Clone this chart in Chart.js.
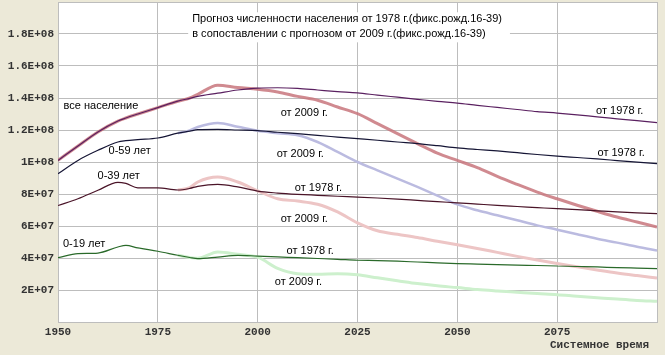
<!DOCTYPE html>
<html>
<head>
<meta charset="utf-8">
<script src="https://cdn.jsdelivr.net/npm/chart.js@4"></script>
<style>
html,body{margin:0;padding:0;background:#ECE9D8;}
canvas{display:block;}
</style>
</head>
<body>
<canvas id="c" width="665" height="355"></canvas>
<script>
// ---- data (values in millions of people) ----
const years = [1950,1955,1960,1965,1967,1970,1975,1980,1983,1985,1990,1995,2000,2005,2010,2015,2020,2025,2030,2035,2040,2045,2050,2055,2060,2065,2070,2075,2080,2085,2090,2095,2100];

const total1978 = [101,110,118.8,125.6,127.5,130,134,138,139.8,141,143,145,146.2,146.4,146,145,144,143.2,141.8,140.5,139.2,137.9,136.8,135.4,134.1,132.8,131.5,130.6,129.5,128.2,127,125.8,124.6];
const total2009 = [101,110,118.8,125.6,127.5,130,134,138,140,142.3,148,146.5,145.5,143.8,141,138.6,134.4,130.2,124,117.7,111.5,105.5,101,96.5,91,86,81.2,77,73,69.2,65.6,62.5,59.4];

const age59_1978 = [92.7,101,107.3,112.5,113.3,114,115,118,119.3,120.2,120.4,120,119.6,118.6,117.7,116.6,115.6,114.6,113.6,112.5,111.5,110.2,108.8,107.8,106.9,105.8,104.7,103.7,102.8,101.9,100.9,99.9,99];
const age59_2009 = [null,null,null,null,null,null,null,118,119.8,121.9,124.4,122,119.5,118,116.7,112.5,106.3,100,94.8,89.6,84.4,79,73.5,69.8,66.7,63.6,60.4,57.7,54.8,52,49.6,47,44.7];

const age39_1978 = [72.8,77,82.3,87.3,86.6,83.8,83.8,82.5,83.5,84.8,86,84.4,81.8,80.6,79.8,79.2,78.6,78.1,77.5,76.8,76,75.2,74.5,73.7,72.9,72.2,71.5,70.8,70.2,69.5,68.8,68.2,67.7];
const age39_2009 = [null,null,null,null,null,null,null,82.5,84,87.5,90.6,87.5,82,77,75.6,73.6,68.8,62,57,54.8,52.8,50.5,48.3,46,43.5,41,38.7,36.5,34.5,32.5,30.6,29,27.5];

const age19_1978 = [40.2,42.7,43.1,46.9,47.9,46.3,44.2,41.7,40.3,39.6,40.6,41.7,41.2,40.7,40.2,39.7,39.2,38.6,38.4,38,37.5,37,36.5,36.2,35.9,35.6,35.3,35,34.7,34.4,34,33.7,33.4];
const age19_2009 = [null,null,null,null,null,null,null,41.7,40.3,39.8,43.8,42.3,40.5,33.5,30.2,29.8,30.2,29.5,27.6,25.8,24,22.6,21.5,20.3,19.4,18.6,17.8,17.1,16.1,15.2,14.3,13.5,13];

const titleLines = ['Прогноз численности населения от 1978 г.(фикс.рожд.16-39)',
                    'в сопоставлении с прогнозом от 2009 г.(фикс.рожд.16-39)'];
const titleAnchor = [1983.6, 189.2, 179.8];
const noteTexts = ['все население','0-59 лет','0-39 лет','0-19 лет',
  'от 2009 г.','от 1978 г.','от 2009 г.','от 1978 г.','от 1978 г.','от 2009 г.','от 1978 г.','от 2009 г.'];
const noteYears = [1951.4,1962.65,1959.9,1951.25,2005.75,2084.75,2004.75,2085.1,2009.3,2005.75,2007.25,2004.3];
const noteValues = [134.8,106.7,91.25,48.6,130.9,131.9,104.8,105.9,84,64.6,44.4,25];
const xAxisTitle = 'Системное время';

// ---- build ----
const M = 1e6;
function pts(arr){ return years.map((y,i)=>({x:y, y: arr[i]==null?null:arr[i]*M})); }
function ds(arr,color,w,order){
  return {data:pts(arr), borderColor:color, borderWidth:w, pointRadius:0, fill:false,
          cubicInterpolationMode:'monotone', order:order, spanGaps:false};
}
function fmtE(v){
  if(v<=0||v>=2e8) return '';
  const e=Math.floor(Math.log10(v)+1e-9);
  const m=+(v/Math.pow(10,e)).toFixed(2);
  return m+'E+'+String(e).padStart(2,'0');
}
const LBL='11px "Liberation Sans", Arial, sans-serif';
const MONO='bold 11px "Liberation Mono", "Courier New", monospace';

const decor = {
  id:'decor',
  beforeDraw(chart){
    const {ctx,chartArea:a}=chart;
    ctx.save();
    ctx.fillStyle='#ECE9D8'; ctx.fillRect(0,0,chart.width,chart.height);
    ctx.fillStyle='#FFFFFF'; ctx.fillRect(a.left,a.top,a.right-a.left,a.bottom-a.top);
    ctx.restore();
  },
  beforeDatasetsDraw(chart){
    const {ctx,scales:{x,y}}=chart;
    ctx.save();
    ctx.font=LBL;
    const lx=x.getPixelForValue(titleAnchor[0]);
    const w=Math.max(...titleLines.map(t=>ctx.measureText(t).width));
    const y1=y.getPixelForValue(titleAnchor[1]*M), y2=y.getPixelForValue(titleAnchor[2]*M);
    ctx.fillStyle='#FFFFFF';
    ctx.fillRect(lx-4,y1-7,w+12,y2-y1+15);
    ctx.fillStyle='#000';
    ctx.textBaseline='middle'; ctx.textAlign='left';
    ctx.fillText(titleLines[0],lx,y1);
    ctx.fillText(titleLines[1],lx,y2);
    ctx.restore();
  },
  afterDraw(chart){
    const {ctx,scales:{x,y},chartArea:a}=chart;
    ctx.save();
    ctx.font=LBL; ctx.fillStyle='#000'; ctx.textBaseline='middle'; ctx.textAlign='left';
    noteTexts.forEach((t,i)=>{
      ctx.fillText(t,x.getPixelForValue(noteYears[i]),y.getPixelForValue(noteValues[i]*M));
    });
    ctx.font=MONO; ctx.textAlign='right'; ctx.fillStyle='#333';
    ctx.fillText(xAxisTitle,a.right-8,345);
    ctx.restore();
  }
};

const tickFont={family:'"Liberation Mono", monospace',size:11,weight:'bold'};

new Chart(document.getElementById('c'),{
  type:'line',
  data:{datasets:[
    ds(total1978,'#5A2060',1.2,0),
    ds(age59_1978,'#151535',1.2,0),
    ds(age39_1978,'#4A1428',1.2,0),
    ds(age19_1978,'#2A6A2A',1.2,0),
    ds(total2009,'rgba(200,118,124,0.85)',3,1),
    ds(age59_2009,'#BBBBE0',2.5,1),
    ds(age39_2009,'#EDC5C5',3,1),
    ds(age19_2009,'#CDF0CD',3,1)
  ]},
  options:{
    responsive:false, animation:false, devicePixelRatio:1,
    layout:{padding:{left:0,right:8,top:2,bottom:0}},
    plugins:{legend:{display:false},tooltip:{enabled:false},title:{display:false}},
    scales:{
      x:{type:'linear',min:1950,max:2100,
         grid:{color:'#BDBDBD',lineWidth:1,drawTicks:false},
         border:{color:'#BDBDBD'},
         ticks:{stepSize:25,padding:4,color:'#333',font:tickFont,
                maxRotation:0,autoSkip:false,
                callback:(v)=> v>=2100?'':String(v)},
         afterFit:(s)=>{s.height=33; s.paddingLeft=0; s.paddingRight=0;}
      },
      y:{type:'linear',min:0,max:2e8,
         grid:{color:'#BDBDBD',lineWidth:1,drawTicks:false},
         border:{color:'#BDBDBD'},
         ticks:{stepSize:2e7,padding:4,color:'#333',font:tickFont,
                callback:(v)=>fmtE(v)},
         afterFit:(s)=>{s.width=58; s.paddingTop=0; s.paddingBottom=0;}
      }
    }
  },
  plugins:[decor]
});
</script>
</body>
</html>
